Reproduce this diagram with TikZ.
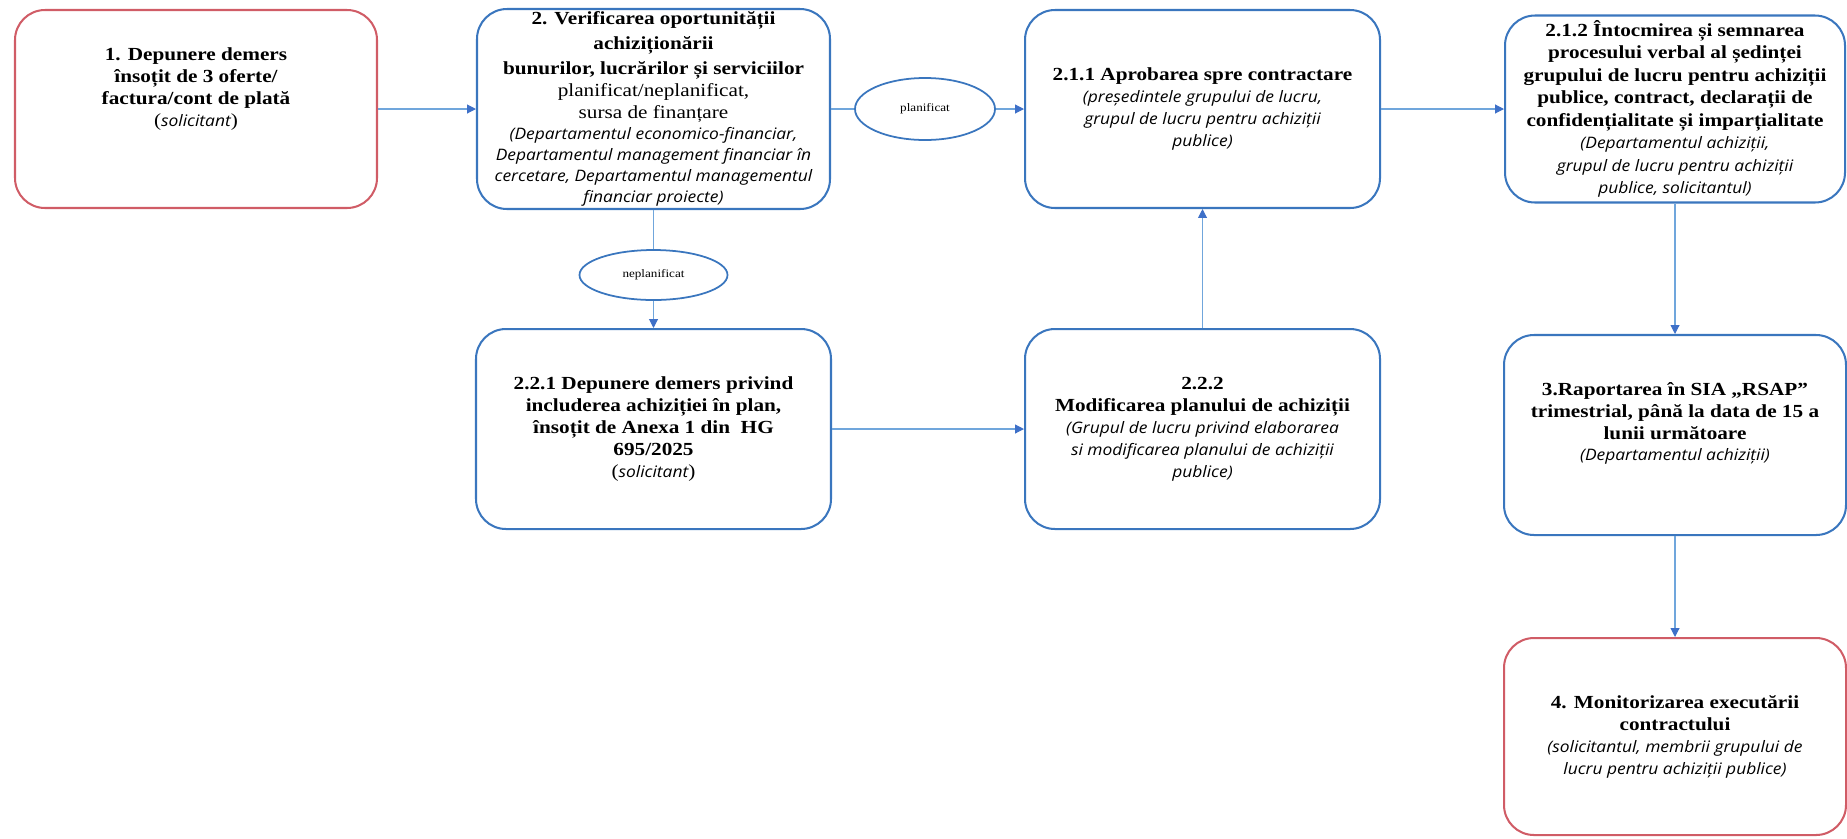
\documentclass[tikz,border=0pt]{standalone}
\usepackage{fontspec}
\setmainfont{Liberation Serif}[FakeStretch=1.15]
\newfontfamily\notefont{Open Sans}[FakeStretch=1.1]
\usepackage{tikz}
\usetikzlibrary{shapes, shapes.geometric, arrows.meta, positioning}

\definecolor{boxblue}{RGB}{58,118,190}
\definecolor{boxred}{RGB}{208,92,102}
\definecolor{linkblue}{RGB}{112,166,220}
\definecolor{tipblue}{RGB}{62,112,200}

\newcommand{\who}[1]{{\notefont\mdseries\itshape\fontsize{9}{11.5}\selectfont #1}}

\begin{document}
\begin{tikzpicture}[
        stepbox/.style={rectangle, rounded corners=0.6cm, draw=boxblue, line width=1.15pt, fill=white, align=center, inner sep=1pt, font=\fontsize{10.5}{12.5}\selectfont\bfseries},
        endbox/.style={stepbox, draw=boxred},
        choice/.style={ellipse, draw=boxblue, line width=1pt, fill=white, inner sep=0pt, font=\fontsize{6.5}{7}\selectfont},
        arrow/.style={-{Triangle[length=5pt, width=5pt, color=tipblue]}, linkblue, line width=0.6pt},
        link/.style={linkblue, line width=0.6pt}
    ]
        \useasboundingbox (0,0) rectangle (36.94,-16.76);

        % Solicitant
        \node[endbox, minimum width=7.24cm, minimum height=3.96cm] (demers) at (3.92,-2.18) {
            1. Depunere demers\\
            însoțit de 3 oferte/\\
            factura/cont de plată\\
            {\mdseries(\who{solicitant})}\\[0.45cm]
            \mbox{}
        };

        % Verificare
        \node[stepbox, minimum width=7.06cm, minimum height=4cm, font=\fontsize{10.5}{12}\selectfont\bfseries] (verif) at (13.07,-2.18) {
            2. Verificarea oportunității\\[2pt]
            achiziționării\\[2pt]
            bunurilor, lucrărilor și serviciilor\\[1pt]
            {\mdseries planificat/neplanificat,}\\
            {\mdseries sursa de finanțare}\\
            \who{(Departamentul economico-financiar,}\\
            \who{Departamentul management financiar în}\\
            \who{cercetare, Departamentul managementul}\\
            \who{financiar proiecte)}
        };

        % Ramuri
        \node[choice, minimum width=2.8cm, minimum height=1.24cm] (plan) at (18.5,-2.18) {planificat};
        \node[choice, minimum width=2.96cm, minimum height=1cm] (neplan) at (13.07,-5.5) {neplanificat};

        % Aprobare
        \node[stepbox, minimum width=7.1cm, minimum height=3.96cm] (aprob) at (24.05,-2.18) {
            2.1.1 Aprobarea spre contractare\\
            \who{(președintele grupului de lucru,}\\
            \who{grupul de lucru pentru achiziții}\\
            \who{publice)}
        };

        % Proces verbal
        \node[stepbox, minimum width=6.8cm, minimum height=3.74cm, font=\fontsize{10.5}{12.8}\selectfont\bfseries] (pv) at (33.5,-2.18) {
            2.1.2 Întocmirea și semnarea\\
            procesului verbal al ședinței\\
            grupului de lucru pentru achiziții\\
            publice, contract, declarații de\\
            confidențialitate și imparțialitate\\
            \who{(Departamentul achiziții,}\\
            \who{grupul de lucru pentru achiziții}\\
            \who{publice, solicitantul)}
        };

        % Includere in plan
        \node[stepbox, minimum width=7.1cm, minimum height=4cm] (includ) at (13.07,-8.58) {
            2.2.1 Depunere demers privind\\
            includerea achiziției în plan,\\
            însoțit de Anexa 1 din~ HG\\
            695/2025\\
            {\mdseries(\who{solicitant})}
        };

        % Modificare plan
        \node[stepbox, minimum width=7.1cm, minimum height=4cm] (modif) at (24.05,-8.58) {
            2.2.2\\
            Modificarea planului de achiziții\\
            \who{(Grupul de lucru privind elaborarea}\\
            \who{si modificarea planului de achiziții}\\
            \who{publice)}
        };

        % Raportare
        \node[stepbox, minimum width=6.84cm, minimum height=4cm] (raport) at (33.5,-8.7) {
            3.Raportarea în SIA „RSAP”\\
            trimestrial, până la data de 15 a\\
            lunii următoare\\
            \who{(Departamentul achiziții)}\\[0.1cm]
            \mbox{}
        };

        % Monitorizare
        \node[endbox, minimum width=6.84cm, minimum height=3.94cm] (monit) at (33.5,-14.73) {
            4. Monitorizarea executării\\
            contractului\\
            \who{(solicitantul, membrii grupului de}\\
            \who{lucru pentru achiziții publice)}
        };

        % Arrows
        \draw[arrow] (demers) -- (verif);
        \draw[link] (verif) -- (plan);
        \draw[arrow] (plan) -- (aprob);
        \draw[arrow] (aprob) -- (pv);
        \draw[link] (verif) -- (neplan);
        \draw[arrow] (neplan) -- (includ);
        \draw[arrow] (includ) -- (modif);
        \draw[arrow] (modif) -- (aprob);
        \draw[arrow] (pv) -- (raport);
        \draw[arrow] (raport) -- (monit);

    \end{tikzpicture}
\end{document}
